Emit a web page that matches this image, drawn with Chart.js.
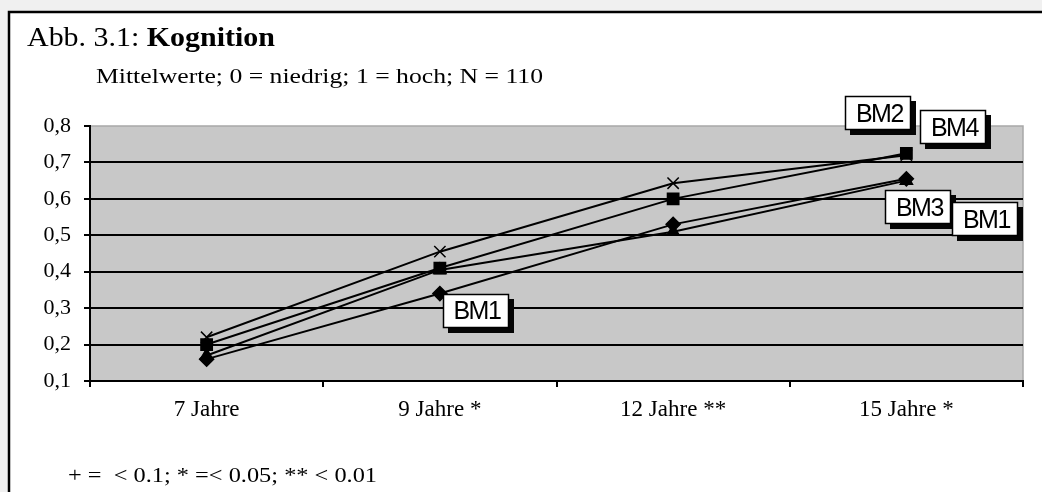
<!DOCTYPE html>
<html lang="de">
<head>
<meta charset="utf-8">
<title>Abb. 3.1: Kognition</title>
<script src="https://cdn.jsdelivr.net/npm/chart.js@4/dist/chart.umd.min.js"></script>
<style>
  html, body { margin: 0; padding: 0; background: #f0f0f0; }
  canvas { display: block; }
</style>
</head>
<body>
<canvas id="myChart" width="1042" height="492"></canvas>
<script>
// Data
const categories = ['7 Jahre', '9 Jahre *', '12 Jahre **', '15 Jahre *'];
const seriesNames = ['BM1', 'BM2', 'BM3', 'BM4'];
const bm1Values = [0.16, 0.34, 0.53, 0.655];
const bm2Values = [0.20, 0.41, 0.60, 0.725];
const bm3Values = [0.17, 0.405, 0.51, 0.65];
const bm4Values = [0.22, 0.455, 0.643, 0.72];
const yTicks = [0.1, 0.2, 0.3, 0.4, 0.5, 0.6, 0.7, 0.8];

// Which points carry a series label: [dataset index, point index]
const labelledPoints = [[0, 1], [1, 3], [3, 3], [2, 3], [0, 3]];
// Offset of each label box from its point (pixels)
const labelOffsets = [[36, 17], [-28, -40], [47, -28], [12, 26], [79, 40]];

const serif = 'Liberation Serif, Times New Roman, serif';
const sans = 'Liberation Sans, Arial, sans-serif';

// Draw text squeezed/stretched to a given width
function drawFitted(ctx, parts, x, y, width) {
  let natural = 0;
  parts.forEach(p => { ctx.font = p.font; natural += ctx.measureText(p.text).width; });
  const sx = width / natural;
  ctx.save();
  ctx.translate(x, y);
  ctx.scale(sx, 1);
  let cx = 0;
  parts.forEach(p => {
    ctx.font = p.font;
    ctx.fillText(p.text, cx, 0);
    cx += ctx.measureText(p.text).width;
  });
  ctx.restore();
}

// Frame, plot background, titles and label boxes
const decorations = {
  id: 'decorations',
  beforeDraw(chart) {
    const ctx = chart.ctx;
    const a = chart.chartArea;
    ctx.save();
    ctx.fillStyle = '#f0f0f0';
    ctx.fillRect(0, 0, chart.width, chart.height);
    ctx.fillStyle = '#ffffff';
    ctx.fillRect(8, 11, chart.width, chart.height);
    ctx.strokeStyle = '#000';
    ctx.lineWidth = 2.5;
    ctx.beginPath();
    ctx.moveTo(9, chart.height + 5);
    ctx.lineTo(9, 12);
    ctx.lineTo(chart.width + 5, 12);
    ctx.stroke();
    // grey plot area
    ctx.fillStyle = '#c8c8c8';
    ctx.fillRect(a.left, a.top, a.right - a.left, a.bottom - a.top);
    ctx.strokeStyle = '#a8a8a8';
    ctx.lineWidth = 1.5;
    ctx.strokeRect(a.left, a.top, a.right - a.left, a.bottom - a.top);
    ctx.restore();
  },
  afterDatasetsDraw(chart) {
    const ctx = chart.ctx;
    ctx.save();
    labelledPoints.forEach(([ds, idx], i) => {
      const pt = chart.getDatasetMeta(ds).data[idx];
      const cx = pt.x + labelOffsets[i][0];
      const cy = pt.y + labelOffsets[i][1];
      const w = 66, h = 34;
      const x = Math.round(cx - w / 2), y = Math.round(cy - h / 2);
      ctx.fillStyle = '#050505';
      ctx.fillRect(x + 5, y + 5, w, h);
      ctx.fillStyle = '#fff';
      ctx.fillRect(x, y, w, h);
      ctx.strokeStyle = '#000';
      ctx.lineWidth = 1.5;
      ctx.strokeRect(x + 0.5, y + 0.5, w - 1, h - 1);
      ctx.fillStyle = '#000';
      ctx.font = '25px ' + sans;
      ctx.letterSpacing = '-1.5px';
      ctx.textAlign = 'center';
      ctx.textBaseline = 'middle';
      ctx.fillText(seriesNames[ds], cx + 1, cy + 2);
    });
    ctx.restore();
  },
  afterDraw(chart) {
    const ctx = chart.ctx;
    ctx.save();
    ctx.fillStyle = '#000';
    ctx.textBaseline = 'alphabetic';
    drawFitted(ctx, [
      { text: 'Abb. 3.1: ', font: '27px ' + serif },
      { text: 'Kognition', font: 'bold 27px ' + serif }
    ], 27, 46, 248);
    drawFitted(ctx, [
      { text: 'Mittelwerte; 0 = niedrig; 1 = hoch; N = 110', font: '22px ' + serif }
    ], 96, 83, 447);
    drawFitted(ctx, [
      { text: '+ =  < 0.1; * =< 0.05; ** < 0.01', font: '22px ' + serif }
    ], 68, 482, 309);
    ctx.restore();
  }
};

function lineDataset(label, values, pointStyle, radius) {
  return {
    label: label,
    data: values,
    borderColor: '#000',
    backgroundColor: '#000',
    borderWidth: 2,
    pointStyle: pointStyle,
    pointRadius: radius,
    pointBorderColor: '#000',
    pointBackgroundColor: '#000',
    pointBorderWidth: 1.5,
    tension: 0,
    clip: false
  };
}

const chartData = {
  labels: categories,
  datasets: [
    lineDataset(seriesNames[0], bm1Values, 'rectRot', 7),
    lineDataset(seriesNames[1], bm2Values, 'rect', 8),
    lineDataset(seriesNames[2], bm3Values, 'triangle', 7),
    lineDataset(seriesNames[3], bm4Values, 'crossRot', 8)
  ]
};

const chartOptions = {
  responsive: false,
  animation: false,
  devicePixelRatio: 1,
  layout: { padding: { left: 0, right: 19, top: 126, bottom: 0 } },
  plugins: {
    legend: { display: false },
    tooltip: { enabled: false }
  },
  scales: {
    x: {
      type: 'category',
      offset: true,
      grid: {
        offset: true,
        drawOnChartArea: false,
        tickLength: 6,
        color: '#000',
        lineWidth: 2
      },
      border: { color: '#000', width: 2 },
      ticks: {
        color: '#000',
        font: { family: serif, size: 23 },
        padding: 9
      },
      afterFit(scale) { scale.height = 111; }
    },
    y: {
      min: yTicks[0],
      max: yTicks[yTicks.length - 1],
      afterBuildTicks(scale) { scale.ticks = yTicks.map(v => ({ value: v })); },
      grid: {
        color: ctx => (ctx.tick && Math.abs(ctx.tick.value - 0.8) < 1e-6) ? 'rgba(0,0,0,0)' : '#000',
        tickColor: '#000',
        lineWidth: 2,
        tickLength: 6
      },
      border: { color: '#000', width: 2 },
      ticks: {
        color: '#000',
        font: { family: serif, size: 22 },
        padding: 13,
        callback: v => v.toFixed(1).replace('.', ',')
      },
      afterFit(scale) { scale.width = 90; }
    }
  }
};

const canvas = document.getElementById('myChart');
const lineChart = new Chart(canvas, {
  type: 'line',
  data: chartData,
  options: chartOptions,
  plugins: [decorations]
});
</script>
</body>
</html>
